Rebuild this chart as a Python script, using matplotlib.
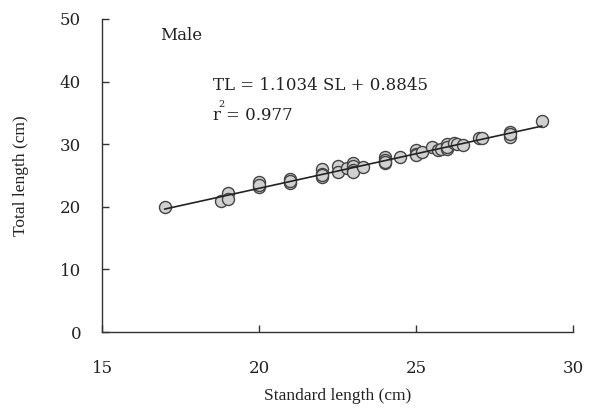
import matplotlib
matplotlib.use("Agg")
import matplotlib.pyplot as plt
import numpy as np

plt.rcParams['font.family'] = ['DejaVu Serif']

# Data (standard length, total length) in cm
sl = [17.0, 18.8, 19.0, 19.0, 20.0, 20.0, 20.0, 21.0, 21.0, 21.0,
      22.0, 22.0, 22.0, 22.0, 22.5, 22.5, 22.8, 23.0, 23.0, 23.0, 23.0, 23.3,
      24.0, 24.0, 24.0, 24.0, 24.5, 25.0, 25.0, 25.0, 25.2,
      25.5, 25.7, 25.8, 26.0, 26.0, 26.0, 26.2, 26.3, 26.5,
      27.0, 27.1, 28.0, 28.0, 28.0, 29.0]
tl = [20.0, 21.0, 22.2, 21.2, 23.9, 23.2, 23.5, 24.5, 23.8, 24.1,
      26.0, 25.3, 24.7, 25.0, 26.5, 25.5, 26.2, 27.0, 26.5, 25.8, 25.5, 26.3,
      28.0, 27.5, 27.0, 27.2, 28.0, 29.0, 28.5, 28.2, 28.7,
      29.5, 29.0, 29.2, 30.0, 29.3, 29.6, 30.2, 30.0, 29.8,
      31.0, 31.0, 32.0, 31.2, 31.6, 33.7]
slope = 1.1034
intercept = 0.8845
r2 = 0.977
xticks = [15, 20, 25, 30]
yticks = [0, 10, 20, 30, 40, 50]

fig = plt.figure(figsize=(6.09, 4.11), dpi=100)
ax = fig.add_axes([0.1675, 0.192, 0.7735, 0.762])

ax.scatter(sl, tl, s=75, facecolor='#d0d0d0', edgecolor='#444444', linewidth=1.0, zorder=2)
xf = np.array([min(sl), max(sl)])
ax.plot(xf, slope * xf + intercept, color='#222222', linewidth=1.2, zorder=3)

ax.set_xlim(15, 30)
ax.set_ylim(0, 50)
ax.set_xticks(xticks)
ax.set_yticks(yticks)
ax.spines['top'].set_visible(False)
ax.spines['right'].set_visible(False)
for s in ['left', 'bottom']:
    ax.spines[s].set_color('#333333')
    ax.spines[s].set_linewidth(1.0)
ax.tick_params(axis='both', direction='in', length=5, width=1.0, colors='#333333',
               labelsize=12, labelcolor='#222222')
ax.tick_params(axis='x', pad=20)
ax.tick_params(axis='y', pad=15)

label_font = ['Liberation Serif', 'DejaVu Serif']
ax.set_xlabel('Standard length (cm)', fontsize=12.5, family=label_font,
              color='#222222', labelpad=8)
ax.set_ylabel('Total length (cm)', fontsize=12.5, family=label_font,
              color='#222222', labelpad=22)

ax.text(16.85, 47.4, 'Male', fontsize=12, color='#222222', va='center', ha='left')
ax.text(18.53, 39.3, 'TL = %.4f SL + %.4f' % (slope, intercept), fontsize=12,
        color='#222222', va='center', ha='left')
ax.text(18.53, 34.5, 'r', fontsize=12, color='#222222', va='center', ha='left')
ax.text(18.72, 36.4, '2', fontsize=7, color='#222222', va='center', ha='left')
ax.text(18.95, 34.5, '= %.3f' % r2, fontsize=12, color='#222222', va='center', ha='left')

fig.savefig('out.png', dpi=100)
